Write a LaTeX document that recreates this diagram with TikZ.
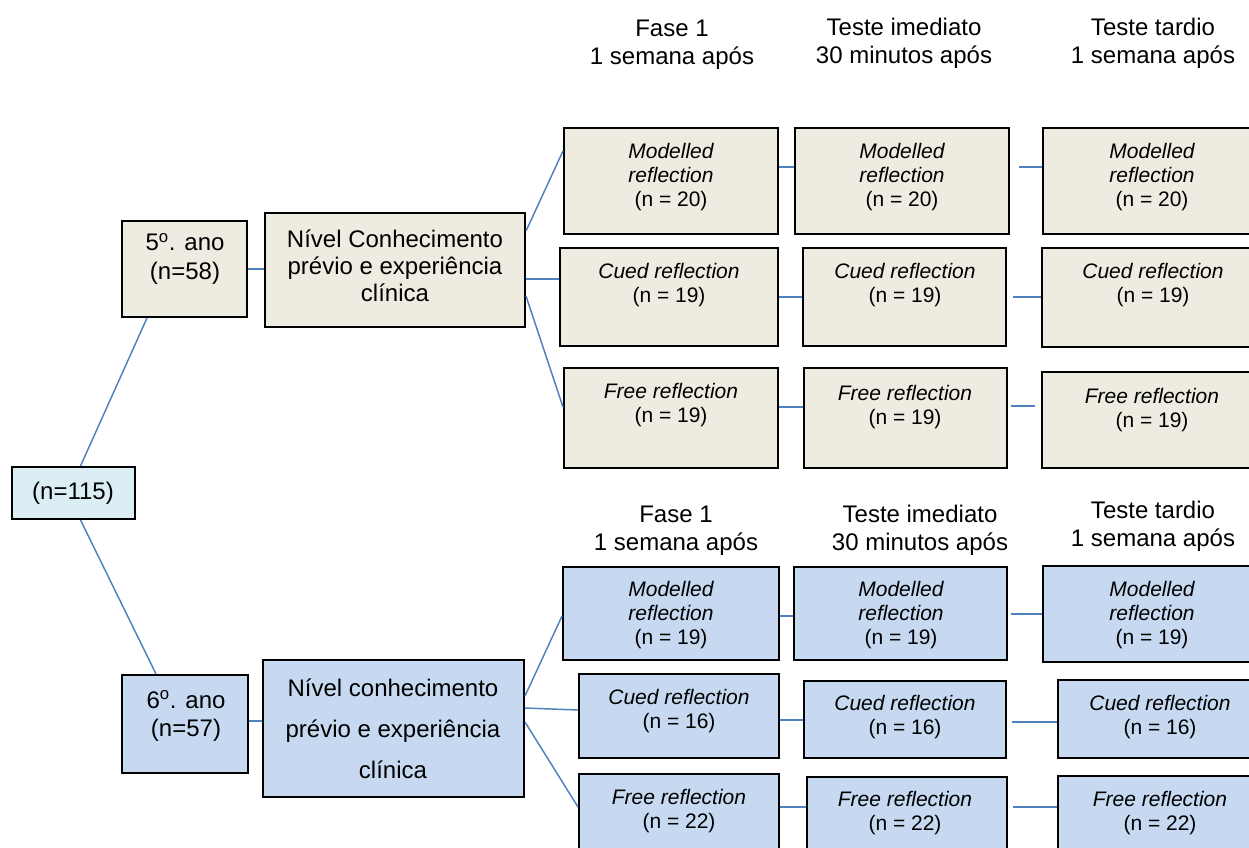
\documentclass[tikz,border=0pt]{standalone}
\usepackage{fontspec}
\setmainfont{Liberation Sans}
\usetikzlibrary{calc}

\definecolor{beige}{HTML}{EEECE1}
\definecolor{paleblue}{HTML}{C6D9F1}
\definecolor{rootblue}{HTML}{DAEEF3}
\definecolor{linkblue}{HTML}{4F81BD}

\tikzset{
  % geometry given as left, top, right, bottom in pixel units
  pxbox/.style n args={4}{
    minimum width={(#3-#1)*0.75pt},
    minimum height={(#4-#2)*0.75pt},
    at={({(#1+#3)/2},{(#2+#4)/2})}},
  box/.style={draw=black, line width=1.5pt, rectangle, inner sep=0pt},
  upper/.style={box, fill=beige},
  lower/.style={box, fill=paleblue},
  conn/.style={draw=linkblue, line width=1.1pt},
  cell/.style={align=center, inner sep=0pt,
    font={\fontsize{15.75}{18}\selectfont}},
  head/.style={align=center, inner sep=0pt,
    font={\fontsize{18}{21}\selectfont}},
}

\begin{document}
\begin{tikzpicture}[x=0.75pt, y=-0.75pt]
\useasboundingbox (0,0) rectangle (1249,847);
\clip (0,0) rectangle (1249,847);

% ---------- column headers ----------
\node[head] (hA1) at (672,45)  {Fase 1\\1 semana após};
\node[head] (hA2) at (904,43)  {Teste imediato\\30 minutos após};
\node[head] (hA3) at (1153,43) {Teste tardio\\1 semana após};
\node[head] (hB1) at (676,531) {Fase 1\\1 semana após};
\node[head] (hB2) at (920,530) {Teste imediato\\30 minutos após};
\node[head] (hB3) at (1153,526) {Teste tardio\\1 semana após};

% ---------- boxes ----------
\node[box, fill=rootblue, pxbox={12}{467}{135}{519}] (root) {};

\node[upper, pxbox={122}{221}{247}{317}] (g5) {};
\node[upper, pxbox={265}{213}{525}{327}] (k5) {};
\node[upper, pxbox={564}{128}{778}{234}] (mA1) {};
\node[upper, pxbox={560}{248}{778}{346}] (cA1) {};
\node[upper, pxbox={564}{368}{778}{468}] (fA1) {};
\node[upper, pxbox={795}{128}{1009}{234}] (mA2) {};
\node[upper, pxbox={803}{248}{1006}{346}] (cA2) {};
\node[upper, pxbox={804}{368}{1007}{468}] (fA2) {};
\node[upper, pxbox={1043}{128}{1290}{234}] (mA3) {};
\node[upper, pxbox={1042}{248}{1290}{347}] (cA3) {};
\node[upper, pxbox={1042}{372}{1290}{468}] (fA3) {};

\node[lower, pxbox={122}{675}{248}{773}] (g6) {};
\node[lower, pxbox={263}{660}{524}{797}] (k6) {};
\node[lower, pxbox={563}{567}{779}{660}] (mB1) {};
\node[lower, pxbox={579}{674}{779}{758}] (cB1) {};
\node[lower, pxbox={579}{774}{779}{890}] (fB1) {};
\node[lower, pxbox={794}{567}{1007}{660}] (mB2) {};
\node[lower, pxbox={804}{681}{1006}{758}] (cB2) {};
\node[lower, pxbox={807}{777}{1007}{890}] (fB2) {};
\node[lower, pxbox={1043}{566}{1290}{662}] (mB3) {};
\node[lower, pxbox={1058}{680}{1290}{758}] (cB3) {};
\node[lower, pxbox={1058}{776}{1290}{890}] (fB3) {};

% ---------- box texts ----------
\node[head] (troot) at (73,493) {(n=115)};
\node[align=center, inner sep=0pt, font={\fontsize{18}{21.75}\selectfont}]
  (tg5) at (185,259) {5\textsuperscript{o}. ano\\(n=58)};
\node[align=center, inner sep=0pt, font={\fontsize{18}{20.25}\selectfont}]
  (tk5) at (395,266) {Nível Conhecimento\\prévio e experiência\\clínica};
\node[align=center, inner sep=0pt, font={\fontsize{18}{21}\selectfont}]
  (tg6) at (186,716) {6\textsuperscript{o}. ano\\(n=57)};
\node[align=center, inner sep=0pt, font={\fontsize{18}{30.75}\selectfont}]
  (tk6) at (393,729) {Nível conhecimento\\prévio e experiência\\clínica};

\node[cell] (tmA1) at (671,177) {\itshape Modelled\\\itshape reflection\\(n = 20)};
\node[cell] (tmA2) at (902,177) {\itshape Modelled\\\itshape reflection\\(n = 20)};
\node[cell] (tmA3) at (1152,177) {\itshape Modelled\\\itshape reflection\\(n = 20)};
\node[cell] (tcA1) at (669,285) {\itshape Cued reflection\\(n = 19)};
\node[cell] (tcA2) at (905,285) {\itshape Cued reflection\\(n = 19)};
\node[cell] (tcA3) at (1153,285) {\itshape Cued reflection\\(n = 19)};
\node[cell] (tfA1) at (671,405) {\itshape Free reflection\\(n = 19)};
\node[cell] (tfA2) at (905,407) {\itshape Free reflection\\(n = 19)};
\node[cell] (tfA3) at (1152,410) {\itshape Free reflection\\(n = 19)};

\node[cell] (tmB1) at (671,615) {\itshape Modelled\\\itshape reflection\\(n = 19)};
\node[cell] (tmB2) at (901,615) {\itshape Modelled\\\itshape reflection\\(n = 19)};
\node[cell] (tmB3) at (1152,615) {\itshape Modelled\\\itshape reflection\\(n = 19)};
\node[cell] (tcB1) at (679,711) {\itshape Cued reflection\\(n = 16)};
\node[cell] (tcB2) at (905,717) {\itshape Cued reflection\\(n = 16)};
\node[cell] (tcB3) at (1160,717) {\itshape Cued reflection\\(n = 16)};
\node[cell] (tfB1) at (679,811) {\itshape Free reflection\\(n = 22)};
\node[cell] (tfB2) at (905,813) {\itshape Free reflection\\(n = 22)};
\node[cell] (tfB3) at (1160,813) {\itshape Free reflection\\(n = 22)};

% ---------- connectors ----------
\draw[conn] ($(root.north)+(7,0)$) -- ($(g5.south west)+(26,0)$);
\draw[conn] ($(root.south)+(7,0)$) -- ($(g6.north west)+(35,0)$);
\draw[conn] (g5.east) -- (g5.east -| k5.west);
\draw[conn] ($(g6.north east)+(0,47)$) coordinate (g6o) -- (g6o -| k6.west);

% fifth year
\draw[conn] ($(k5.north east)+(0,19)$) -- ($(mA1.north west)+(0,24)$);
\draw[conn] ($(k5.north east)+(0,67)$) coordinate (k5c) -- (k5c -| cA1.west);
\draw[conn] ($(k5.north east)+(0,84)$) -- ($(fA1.north west)+(0,40)$);
\draw[conn] ($(mA1.north east)+(0,40)$) coordinate (a1) -- (a1 -| mA2.west);
\draw[conn] (cA1.east) -- (cA1.east -| cA2.west);
\draw[conn] ($(fA1.north east)+(0,40)$) coordinate (a2) -- (a2 -| fA2.west);
\draw[conn] ($(mA2.north east)+(9,40)$) coordinate (a3) -- (a3 -| mA3.west);
\draw[conn] ($(cA2.east)+(6,0)$) coordinate (a4) -- (a4 -| cA3.west);
\draw[conn] ($(fA2.north east)+(3,39)$) coordinate (a5) -- ($(a5 -| fA3.west)+(-6,0)$);

% sixth year
\draw[conn] ($(k6.north east)+(0,37)$) -- ($(mB1.north west)+(0,50)$);
\draw[conn] ($(k6.north east)+(0,49)$) -- ($(cB1.north west)+(0,37)$);
\draw[conn] ($(k6.north east)+(0,63)$) -- ($(fB1.north west)+(0,34)$);
\draw[conn] ($(mB1.north east)+(0,50)$) coordinate (b1) -- (b1 -| mB2.west);
\draw[conn] ($(cB1.north east)+(0,47)$) coordinate (b2) -- (b2 -| cB2.west);
\draw[conn] ($(fB1.north east)+(0,34)$) coordinate (b3) -- (b3 -| fB2.west);
\draw[conn] ($(mB2.north east)+(3,48)$) coordinate (b4) -- (b4 -| mB3.west);
\draw[conn] ($(cB2.north east)+(5,42)$) coordinate (b5) -- (b5 -| cB3.west);
\draw[conn] ($(fB2.north east)+(5,31)$) coordinate (b6) -- (b6 -| fB3.west);
\end{tikzpicture}
\end{document}
